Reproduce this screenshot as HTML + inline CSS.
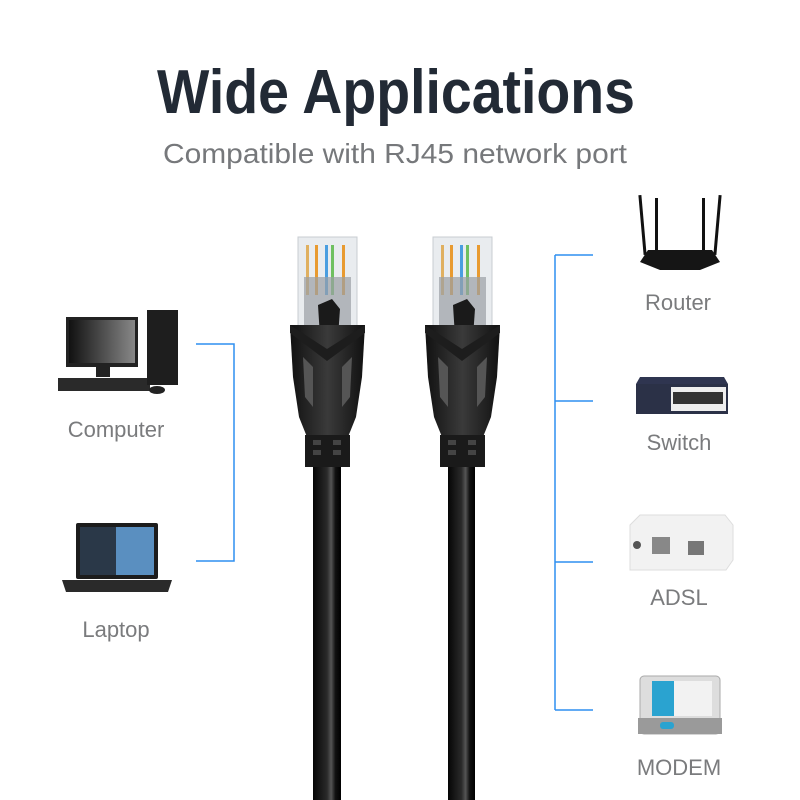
<!DOCTYPE html>
<html><head><meta charset="utf-8"><style>
html,body{margin:0;padding:0;background:#fff}
svg{display:block}
text{font-family:"Liberation Sans",sans-serif}
</style></head><body>
<svg width="800" height="800" viewBox="0 0 800 800" xmlns="http://www.w3.org/2000/svg">
<defs>
<linearGradient id="cab" x1="0" x2="1"><stop offset="0" stop-color="#050505"/><stop offset="0.5" stop-color="#2a2a2a"/><stop offset="0.65" stop-color="#555"/><stop offset="0.8" stop-color="#111"/><stop offset="1" stop-color="#000"/></linearGradient>
<linearGradient id="boot" x1="0" x2="1"><stop offset="0" stop-color="#111"/><stop offset="0.5" stop-color="#3a3a3a"/><stop offset="1" stop-color="#111"/></linearGradient>
<linearGradient id="scr" x1="0" x2="1"><stop offset="0" stop-color="#111"/><stop offset="1" stop-color="#888"/></linearGradient>
<g id="conn">
 <!-- plug -->
 <rect x="0" y="0" width="59" height="95" fill="#e9ecef" stroke="#c8cdd2"/>
 <rect x="8" y="8" width="3" height="50" fill="#e0b060"/>
 <rect x="17" y="8" width="3" height="50" fill="#e89a30"/>
 <rect x="27" y="8" width="3" height="50" fill="#4a9ee0"/>
 <rect x="33" y="8" width="3" height="50" fill="#6fc060"/>
 <rect x="44" y="8" width="3" height="50" fill="#e89a30"/>
 <rect x="6" y="40" width="47" height="50" fill="#9aa0a5" opacity="0.7"/>
 <path d="M20 68 L34 62 L42 72 L40 100 L22 100 Z" fill="#1a1a1a"/>
 <!-- boot -->
 <path d="M-8 88 L67 88 L64 140 L58 180 L50 200 L9 200 L1 180 L-5 140 Z" fill="url(#boot)"/>
 <path d="M-8 88 L29 112 L67 88 L67 96 L29 124 L-8 96 Z" fill="#1d1d1d"/>
 <path d="M5 120 L15 130 L15 170 L7 160 Z M54 120 L44 130 L44 170 L52 160 Z" fill="#555"/>
 <rect x="7" y="198" width="45" height="32" fill="#1a1a1a"/>
 <rect x="15" y="203" width="8" height="5" fill="#444"/><rect x="35" y="203" width="8" height="5" fill="#444"/>
 <rect x="15" y="213" width="8" height="5" fill="#444"/><rect x="35" y="213" width="8" height="5" fill="#444"/>
</g>
</defs>

<text x="396" y="113" text-anchor="middle" font-size="62" font-weight="bold" fill="#222a35" textLength="478" lengthAdjust="spacingAndGlyphs">Wide Applications</text>
<text x="395" y="163" text-anchor="middle" font-size="28" fill="#76787b" textLength="464" lengthAdjust="spacingAndGlyphs">Compatible with RJ45 network port</text>

<!-- cables -->
<rect x="313" y="455" width="28" height="345" fill="url(#cab)"/>
<rect x="448" y="455" width="27" height="345" fill="url(#cab)"/>
<use href="#conn" x="298" y="237"/>
<use href="#conn" x="433" y="237"/>

<!-- left bracket -->
<path d="M196 344 H234 V561 H196" fill="none" stroke="#2f8ff0" stroke-width="1.5"/>
<!-- right bracket -->
<path d="M555 255 V710 M555 255 H593 M555 401 H593 M555 562 H593 M555 710 H593" fill="none" stroke="#2f8ff0" stroke-width="1.5"/>

<!-- computer -->
<rect x="66" y="317" width="72" height="50" fill="#222"/>
<rect x="69" y="320" width="66" height="43" fill="url(#scr)"/>
<rect x="96" y="367" width="14" height="10" fill="#222"/>
<rect x="58" y="378" width="92" height="13" fill="#2a2a2a"/>
<rect x="147" y="310" width="31" height="75" fill="#1e1e1e"/>
<ellipse cx="157" cy="390" rx="8" ry="4" fill="#222"/>
<text x="116" y="437" text-anchor="middle" font-size="22" fill="#7a7b7d">Computer</text>

<!-- laptop -->
<rect x="76" y="523" width="82" height="56" rx="2" fill="#1c1c1c"/>
<rect x="80" y="527" width="74" height="48" fill="#5a8fc0"/>
<rect x="80" y="527" width="36" height="48" fill="#2a3848"/>
<path d="M62 580 H172 L168 592 H66 Z" fill="#2a2a2a"/>
<text x="116" y="637" text-anchor="middle" font-size="22" fill="#7a7b7d">Laptop</text>

<!-- router -->
<rect x="641" y="195" width="3" height="60" fill="#111" transform="rotate(-5 642 225)"/>
<rect x="655" y="198" width="3" height="55" fill="#111"/>
<rect x="702" y="198" width="3" height="55" fill="#111"/>
<rect x="716" y="195" width="3" height="60" fill="#111" transform="rotate(5 717 225)"/>
<path d="M648 250 H712 L720 262 L700 270 H660 L640 262 Z" fill="#151515"/>
<text x="678" y="310" text-anchor="middle" font-size="22" fill="#7a7b7d">Router</text>

<!-- switch -->
<path d="M640 377 H724 L728 384 H636 Z" fill="#2f3550"/>
<rect x="636" y="384" width="92" height="30" fill="#2b3147"/>
<rect x="671" y="387" width="55" height="24" fill="#eee"/>
<rect x="673" y="392" width="50" height="12" fill="#333"/>
<text x="679" y="450" text-anchor="middle" font-size="22" fill="#7a7b7d">Switch</text>

<!-- ADSL -->
<path d="M630 525 L640 515 H725 L733 525 V560 L726 570 H630 Z" fill="#f2f2f2" stroke="#ddd"/>
<rect x="652" y="537" width="18" height="17" fill="#888"/>
<rect x="688" y="541" width="16" height="14" fill="#777"/>
<circle cx="637" cy="545" r="4" fill="#555"/>
<text x="679" y="605" text-anchor="middle" font-size="22" fill="#7a7b7d">ADSL</text>

<!-- modem -->
<rect x="640" y="676" width="80" height="58" rx="4" fill="#ddd" stroke="#aaa"/>
<rect x="652" y="681" width="22" height="35" fill="#2aa3d0"/>
<rect x="674" y="681" width="38" height="35" fill="#f2f2f2"/>
<rect x="638" y="718" width="84" height="16" fill="#9a9a9a"/>
<rect x="660" y="722" width="14" height="7" rx="3" fill="#2aa3d0"/>
<text x="679" y="775" text-anchor="middle" font-size="22" fill="#7a7b7d">MODEM</text>
</svg>
</body></html>
